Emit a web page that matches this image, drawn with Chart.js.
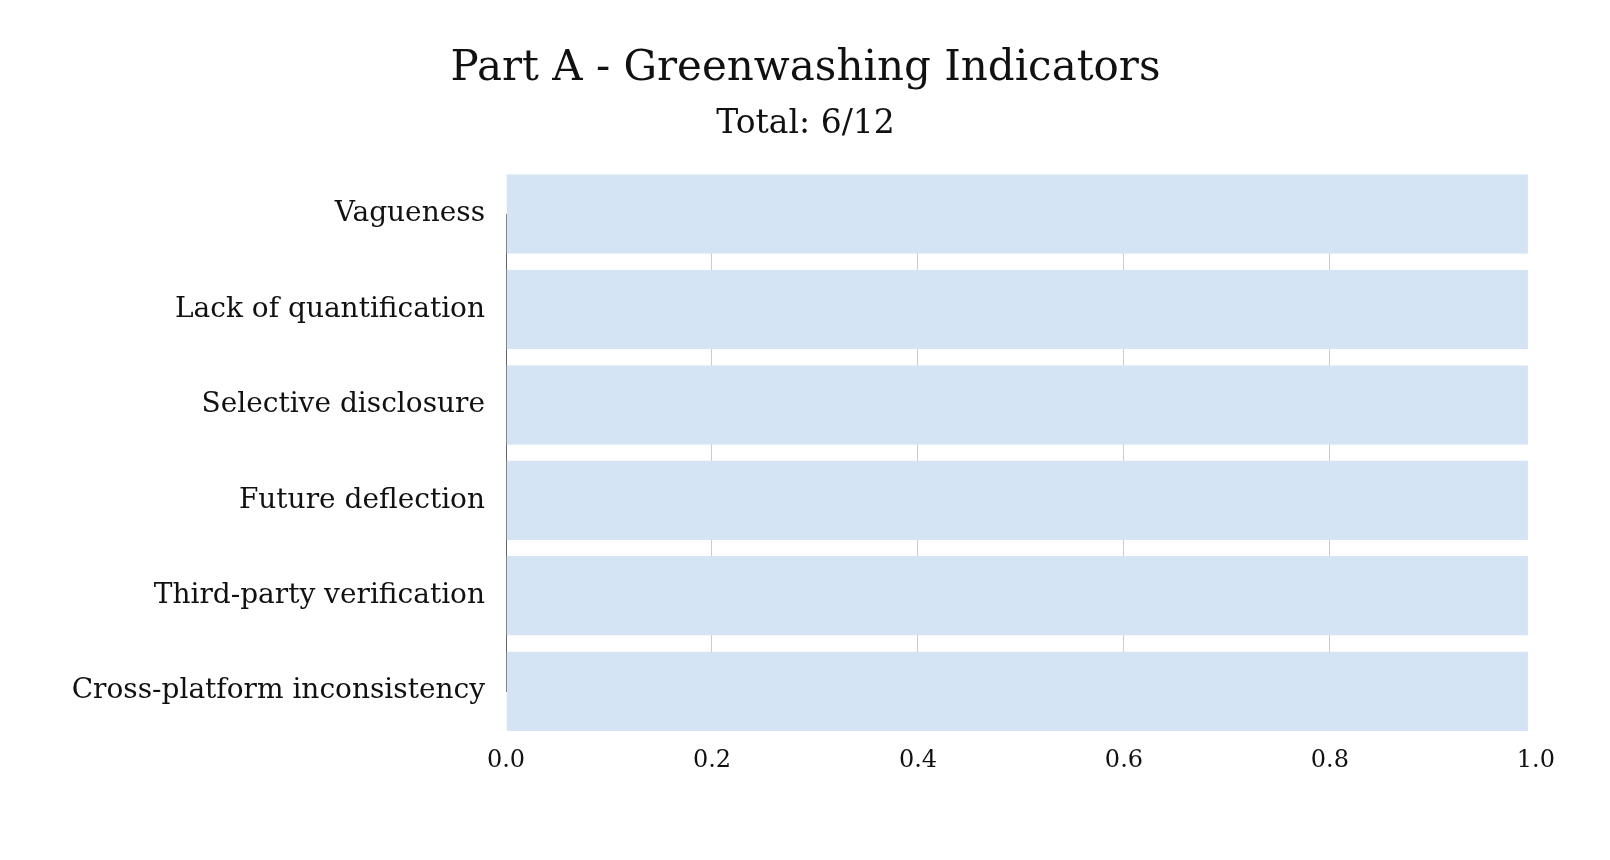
<!DOCTYPE html>
<html>
<head>
<meta charset="utf-8">
<script src="https://cdn.jsdelivr.net/npm/chart.js@4"></script>
<style>
  html, body { margin: 0; padding: 0; background: #ffffff; }
  #wrap { width: 1610px; height: 860px; }
</style>
</head>
<body>
<div id="wrap"><canvas id="c"></canvas></div>
<script>
const titleText = "Part A - Greenwashing Indicators";
const subtitleText = "Total: 6/12";
const categories = [
  "Vagueness",
  "Lack of quantification",
  "Selective disclosure",
  "Future deflection",
  "Third-party verification",
  "Cross-platform inconsistency"
];
const scores = [1, 1, 1, 1, 1, 1];
const xTicks = [0, 0.2, 0.4, 0.6, 0.8, 1.0];

const FONT = "'DejaVu Serif', 'Liberation Serif', serif";

new Chart(document.getElementById('c'), {
  type: 'bar',
  data: {
    labels: categories,
    datasets: [{
      label: 'Score',
      data: scores,
      backgroundColor: '#d5e4f4',
      borderColor: '#ffffff',
      borderWidth: { top: 0, bottom: 0, left: 0, right: 8 },
      borderSkipped: false,
      barPercentage: 0.833,
      categoryPercentage: 1,
      clip: false
    }]
  },
  options: {
    indexAxis: 'y',
    responsive: true,
    maintainAspectRatio: false,
    animation: false,
    layout: { padding: { left: 68, right: 67, top: 0, bottom: 30 } },
    plugins: {
      legend: { display: false },
      tooltip: { enabled: false },
      title: {
        display: true,
        text: titleText,
        color: '#111111',
        font: { family: FONT, size: 42, weight: 'normal' },
        padding: { top: 44, bottom: 5 }
      },
      subtitle: {
        display: true,
        text: subtitleText,
        color: '#111111',
        font: { family: FONT, size: 33, weight: 'normal' },
        padding: { top: 5, bottom: 70 }
      }
    },
    scales: {
      x: {
        type: 'linear',
        min: 0,
        max: 1,
        afterBuildTicks: (scale) => { scale.ticks = xTicks.map(v => ({ value: v })); },
        ticks: {
          color: '#111111',
          font: { family: FONT, size: 24 },
          padding: 55,
          callback: (v) => Number(v).toFixed(1)
        },
        grid: {
          display: true,
          drawTicks: false,
          color: (ctx) => (ctx.tick && ctx.tick.value === 1) ? 'rgba(0,0,0,0)' : '#cccccc',
          lineWidth: 1
        },
        border: { display: false }
      },
      y: {
        offset: false,
        afterFit: (scale) => { scale.width = 438; },
        ticks: {
          color: '#111111',
          font: { family: FONT, size: 28 },
          padding: 21
        },
        grid: { display: false, drawTicks: false },
        border: { display: true, color: '#666666', width: 1 }
      }
    }
  }
});
</script>
</body>
</html>
